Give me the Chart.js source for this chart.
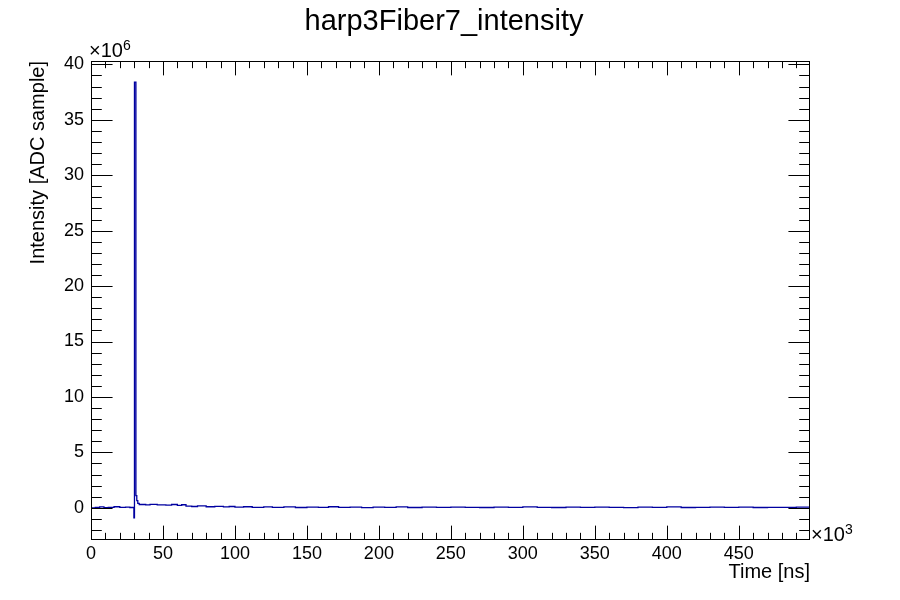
<!DOCTYPE html>
<html>
<head>
<meta charset="utf-8">
<script src="https://cdn.jsdelivr.net/npm/chart.js@4.4.1/dist/chart.umd.min.js"></script>
<style>
  html, body { margin: 0; padding: 0; background: #fff; }
  #wrap { width: 900px; height: 600px; }
</style>
</head>
<body>
<div id="wrap"><canvas id="harpChart" width="900" height="600"></canvas></div>
<script>
// bin lower edges, time in units of 10^3 ns (last entry = upper edge of the axis)
var timeK = [0, 3, 6, 9, 12, 16, 20, 24, 27, 29.8,
  30.2, 31.2, 31.8, 32.5, 33.5, 38, 41, 46, 52, 56,
  60, 63, 66, 70, 74, 80, 86, 92, 96, 100,
  106, 112, 120, 126, 134, 142, 150, 158, 165, 172,
  180, 188, 196, 204, 212, 220, 230, 240, 250, 260,
  270, 280, 290, 300, 310, 320, 330, 340, 350, 360,
  370, 380, 390, 400, 410, 420, 430, 440, 450, 460,
  470, 480, 490, 499.5];
// intensity in units of 10^6 ADC sample (value of the bin starting at timeK)
var intensityM = [0.00, 0.03, 0.08, 0.02, 0.05, 0.10, 0.04, 0.07, 0.03, -0.90,
  38.40, 1.10, 0.65, 0.40, 0.30, 0.27, 0.32, 0.26, 0.24, 0.30,
  0.22, 0.28, 0.15, 0.12, 0.18, 0.10, 0.14, 0.08, 0.12, 0.06,
  0.10, 0.05, 0.09, 0.04, 0.08, 0.03, 0.07, 0.05, 0.10, 0.04,
  0.06, 0.02, 0.07, 0.05, 0.08, 0.03, 0.06, 0.04, 0.07, 0.05,
  0.03, 0.06, 0.04, 0.08, 0.05, 0.03, 0.06, 0.04, 0.07, 0.05,
  0.02, 0.06, 0.04, 0.08, 0.03, 0.05, 0.07, 0.04, 0.06, 0.03,
  0.05, 0.04, 0.06, 0.06];

// tick labels
var xTickValues = [0, 50, 100, 150, 200, 250, 300, 350, 400, 450];
var yTickValues = [0, 5, 10, 15, 20, 25, 30, 35, 40];

var xMin = 0, xMax = 499.5, yMin = -2.9, yMax = 40.3;
var xMajor = 50, xMinor = 10, yMajor = 5, yMinor = 1;

var titleText = "harp3Fiber7_intensity";
var xTitle = "Time [ns]";
var yTitle = "Intensity [ADC sample]";

var FONT = "'Liberation Sans', Arial, Helvetica, sans-serif";

var points = [];
for (var i = 0; i < timeK.length; i++) {
  points.push({x: timeK[i], y: intensityM[i]});
}

// ROOT style frame: inward ticks on all sides, title and exponent labels
var rootFrame = {
  id: 'rootFrame',
  afterDraw: function (chart) {
    var ctx = chart.ctx, a = chart.chartArea;
    var xs = chart.scales.x, ys = chart.scales.y;
    var h = a.bottom - a.top, w = a.right - a.left;
    var xl = 0.03 * h, yl = 0.03 * w;
    ctx.save();
    ctx.strokeStyle = '#000';
    ctx.lineWidth = 1;
    ctx.strokeRect(Math.round(a.left) + 0.5, Math.round(a.top) + 0.5,
      Math.round(w) - 1, Math.round(h) - 1);
    ctx.beginPath();
    var v, p, len;
    for (v = Math.ceil(xMin / xMinor) * xMinor; v <= xMax; v += xMinor) {
      p = Math.round(xs.getPixelForValue(v)) + 0.5;
      len = (Math.abs(v % xMajor) < 1e-6) ? xl : xl / 2;
      ctx.moveTo(p, a.bottom); ctx.lineTo(p, a.bottom - len);
      ctx.moveTo(p, a.top); ctx.lineTo(p, a.top + len);
    }
    for (v = Math.ceil(yMin / yMinor) * yMinor; v <= yMax; v += yMinor) {
      p = Math.round(ys.getPixelForValue(v)) + 0.5;
      len = (Math.abs(v % yMajor) < 1e-6) ? yl : yl / 2;
      ctx.moveTo(a.left, p); ctx.lineTo(a.left + len, p);
      ctx.moveTo(a.right, p); ctx.lineTo(a.right - len, p);
    }
    ctx.stroke();

    ctx.fillStyle = '#000';
    // title
    ctx.font = '29px ' + FONT;
    ctx.textAlign = 'center';
    ctx.textBaseline = 'alphabetic';
    ctx.fillText(titleText, 444, 30);
    // x title
    ctx.font = '20px ' + FONT;
    ctx.textAlign = 'right';
    ctx.fillText(xTitle, a.right, 578);
    // y title
    ctx.save();
    ctx.translate(44, a.top);
    ctx.rotate(-Math.PI / 2);
    ctx.textAlign = 'right';
    ctx.fillText(yTitle, 0, 0);
    ctx.restore();
    // exponents
    ctx.textAlign = 'left';
    ctx.font = '20px ' + FONT;
    ctx.fillText('\u00d710', 89, 57);
    ctx.fillText('\u00d710', a.right + 1, 541);
    ctx.font = '14px ' + FONT;
    ctx.fillText('6', 123, 50);
    ctx.fillText('3', a.right + 35, 534);
    ctx.restore();
  }
};

var ctx = document.getElementById('harpChart').getContext('2d');
var harpChart = new Chart(ctx, {
  type: 'line',
  data: {
    datasets: [{
      label: titleText,
      data: points,
      stepped: 'before',
      borderColor: '#0000a0',
      borderWidth: 1.3,
      pointRadius: 0,
      fill: false
    }]
  },
  options: {
    responsive: false,
    animation: false,
    events: [],
    layout: { padding: { left: 0, right: 90, top: 61, bottom: 0 } },
    plugins: { legend: { display: false }, tooltip: { enabled: false } },
    scales: {
      x: {
        type: 'linear',
        min: xMin, max: xMax,
        border: { display: false },
        grid: { display: false, drawTicks: false },
        ticks: {
          autoSkip: false,
          maxRotation: 0,
          padding: 3,
          color: '#000',
          font: { family: FONT, size: 18 },
          callback: function (v) { return v; }
        },
        afterBuildTicks: function (s) {
          s.ticks = xTickValues.map(function (v) { return {value: v}; });
        },
        afterFit: function (s) { s.height = 60; }
      },
      y: {
        type: 'linear',
        min: yMin, max: yMax,
        border: { display: false },
        grid: { display: false, drawTicks: false },
        ticks: {
          autoSkip: false,
          padding: 7,
          color: '#000',
          font: { family: FONT, size: 18 },
          callback: function (v) { return v; }
        },
        afterBuildTicks: function (s) {
          s.ticks = yTickValues.map(function (v) { return {value: v}; });
        },
        afterFit: function (s) { s.width = 91; }
      }
    }
  },
  plugins: [rootFrame]
});
</script>
</body>
</html>
